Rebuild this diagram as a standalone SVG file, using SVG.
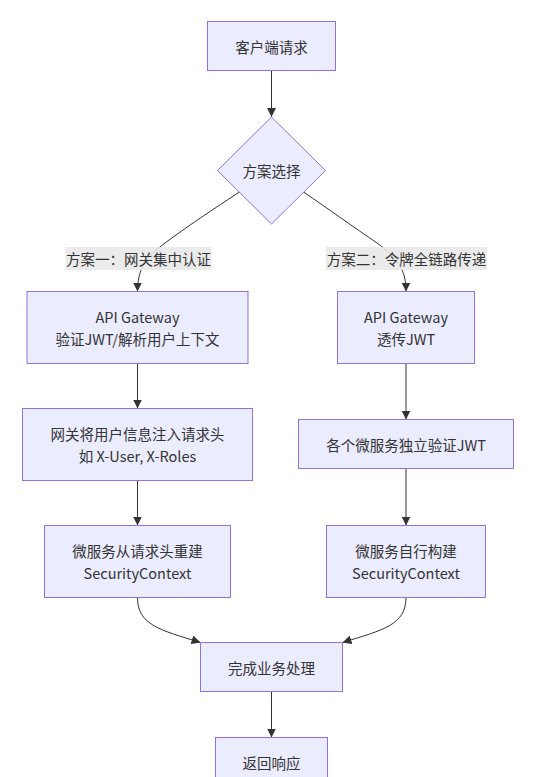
<svg xmlns="http://www.w3.org/2000/svg" width="534" height="777" viewBox="0 0 534 777">
<style>
.node rect,.node polygon{fill:#ECECFF;stroke:#9370DB;stroke-width:1}
text{font-family:"Noto Sans CJK SC","Noto Sans",sans-serif;font-size:14.5px;fill:#333;text-anchor:middle;dominant-baseline:central}
.edge{fill:none;stroke:#333;stroke-width:1}
.lbl{fill:#e8e8e8;opacity:0.85}
</style>
<defs>
<marker id="arr" viewBox="0 0 10 10" refX="10" refY="5" markerWidth="9" markerHeight="9" markerUnits="userSpaceOnUse" orient="auto">
<path d="M0,0 L10,5 L0,10 z" fill="#333"/>
</marker>
</defs>
<rect width="534" height="777" fill="#fff"/>
<g id="connectors">
<path class="edge" marker-end="url(#arr)" d="M271.5,70.5 L271.5,117"/>
<path class="edge" marker-end="url(#arr)" d="M239.5,192 C215,208 185,228 165,243 C145,258 137.5,270 137.5,291.5"/>
<path class="edge" marker-end="url(#arr)" d="M303.5,192 C327,208 355,228 377,243 C398,258 406,270 406,291.5"/>
<path class="edge" marker-end="url(#arr)" d="M137.5,363.5 L137.5,408.5"/>
<path class="edge" marker-end="url(#arr)" d="M406,363.5 L406,419.5"/>
<path class="edge" marker-end="url(#arr)" d="M137.5,480.5 L137.5,525.5"/>
<path class="edge" marker-end="url(#arr)" d="M406,468.5 L406,525.5"/>
<path class="edge" marker-end="url(#arr)" d="M137.5,597.5 C137.5,625 160,630 200.5,642.5"/>
<path class="edge" marker-end="url(#arr)" d="M406,597.5 C406,625 383,630 342.5,642.5"/>
<path class="edge" marker-end="url(#arr)" d="M271.5,691.5 L271.5,737.5"/>
<g id="label1"><rect class="lbl" x="65.5" y="247" width="146" height="23"/><text x="138.5" y="258.5">方案一：网关集中认证</text></g>
<g id="label2"><rect class="lbl" x="326" y="247" width="161" height="23"/><text x="406.5" y="258.5">方案二：令牌全链路传递</text></g>
</g>
<g id="n1" class="node"><rect x="207.5" y="21.5" width="128" height="49"/><text x="271.5" y="46">客户端请求</text></g>
<g id="n2" class="node"><polygon points="271.5,117 325.5,170.5 271.5,224 217.5,170.5"/><text x="271.5" y="170.5">方案选择</text></g>
<g id="a1" class="node"><rect x="27" y="291.5" width="221" height="72"/><text x="137.5" y="316.5">API Gateway</text><text x="137.5" y="338.5">验证JWT/解析用户上下文</text></g>
<g id="b1" class="node"><rect x="337.5" y="291.5" width="137" height="72"/><text x="406" y="316.5">API Gateway</text><text x="406" y="338.5">透传JWT</text></g>
<g id="a2" class="node"><rect x="22.5" y="408.5" width="230" height="72"/><text x="137.5" y="433.5">网关将用户信息注入请求头</text><text x="137.5" y="455.5">如 X-User, X-Roles</text></g>
<g id="b2" class="node"><rect x="298.5" y="419.5" width="215" height="49"/><text x="406" y="444">各个微服务独立验证JWT</text></g>
<g id="a3" class="node"><rect x="44.5" y="525.5" width="186" height="72"/><text x="137.5" y="550.5">微服务从请求头重建</text><text x="137.5" y="572.5">SecurityContext</text></g>
<g id="b3" class="node"><rect x="326.5" y="525.5" width="159" height="72"/><text x="406" y="550.5">微服务自行构建</text><text x="406" y="572.5">SecurityContext</text></g>
<g id="f" class="node"><rect x="200.5" y="642.5" width="142" height="49"/><text x="271.5" y="667">完成业务处理</text></g>
<g id="r" class="node"><rect x="215.5" y="737.5" width="112" height="49"/><text x="271.5" y="762">返回响应</text></g>
</svg>
